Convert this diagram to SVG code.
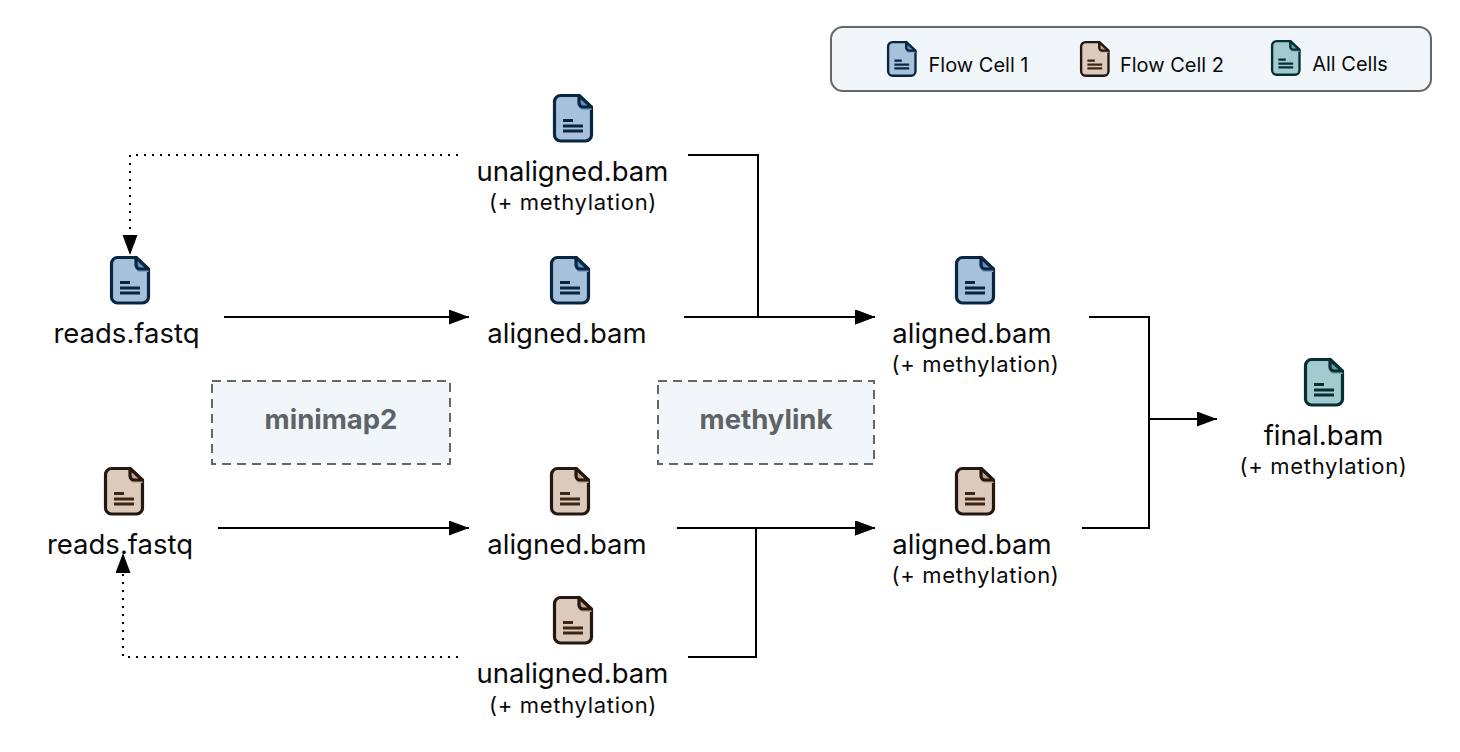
<svg xmlns="http://www.w3.org/2000/svg" width="1460" height="752" viewBox="0 0 1460 752">
<style>
text{font-family:"Inter","Noto Sans","Liberation Sans",sans-serif;text-anchor:middle;fill:#0a0a0a}
.n{font-size:27.5px}.s{font-size:22px;letter-spacing:.7px}.l{font-size:20px}
.p{font-size:27.500px;font-weight:700;fill:#5f6368}
.box{fill:#f1f6fa;stroke:#666;stroke-width:2}
.d{stroke-dasharray:9 6}
.c{fill:none;stroke:#000;stroke-width:2}
.a{marker-end:url(#ah)}
.dot{stroke-dasharray:2 6}
.b{stroke-width:3.200;stroke-linejoin:round}
.ln{fill:none;stroke-width:3}
</style>
<defs>
<marker id="ah" markerUnits="userSpaceOnUse" markerWidth="22" markerHeight="16" refX="20" refY="7.500" orient="auto"><path d="M0 0L20 7.500L0 15Z" fill="#000"/></marker>
<symbol id="f1" overflow="visible"><path class="b" d="M7.500 1.500H26L38.500 14V41a6 6 0 0 1-6 6H7.500a6 6 0 0 1-6-6V7.500a6 6 0 0 1 6-6Z" fill="#a6c1dc" stroke="#0a2540"/><path d="M26 2V12a4 4 0 0 0 4 4H38.500V14L26 2Z" fill="#7a9fc6"/><path class="b" d="M26 1.500V9a4 4 0 0 0 4 4H38.500Z" fill="#5f8fc0" stroke="#0a2540"/><path class="ln" d="M10 26.500H20M10 32H30M10 37H30" stroke="#0a2540"/></symbol>
<symbol id="f2" overflow="visible"><path class="b" d="M7.500 1.500H26L38.500 14V41a6 6 0 0 1-6 6H7.500a6 6 0 0 1-6-6V7.500a6 6 0 0 1 6-6Z" fill="#dccabd" stroke="#24170f"/><path d="M26 2V12a4 4 0 0 0 4 4H38.500V14L26 2Z" fill="#c7a98f"/><path class="b" d="M26 1.500V9a4 4 0 0 0 4 4H38.500Z" fill="#bfa28a" stroke="#24170f"/><path class="ln" d="M10 26.500H20M10 32H30M10 37H30" stroke="#3f2614"/></symbol>
<symbol id="f3" overflow="visible"><path class="b" d="M7.500 1.500H26L38.500 14V41a6 6 0 0 1-6 6H7.500a6 6 0 0 1-6-6V7.500a6 6 0 0 1 6-6Z" fill="#a2cbcf" stroke="#062e33"/><path d="M26 2V12a4 4 0 0 0 4 4H38.500V14L26 2Z" fill="#7db3b8"/><path class="b" d="M26 1.500V9a4 4 0 0 0 4 4H38.500Z" fill="#5fa0a6" stroke="#062e33"/><path class="ln" d="M10 26.500H20M10 32H30M10 37H30" stroke="#062e33"/></symbol>
</defs>
<rect width="1460" height="752" fill="#fff"/>
<g id="connectors">
<path class="c dot a" d="M458 155H130V255"/>
<path class="c dot a" d="M458 657H123V553"/>
<path class="c a" d="M224 317H469"/>
<path class="c a" d="M218 528H469"/>
<path class="c a" d="M684 317H875"/>
<path class="c a" d="M688 155H758V317H875"/>
<path class="c a" d="M677 528H875"/>
<path class="c a" d="M688 657H756V528H875"/>
<path class="c" d="M1089 317H1149V528H1082"/>
<path class="c a" d="M1149 419H1217"/>
</g>
<g id="legend">
<rect class="box" x="831" y="27" width="600" height="64" rx="12"/>
<use href="#f1" transform="translate(887,41) scale(.74)"/><text class="l" x="978.500" y="72">Flow Cell 1</text>
<use href="#f2" transform="translate(1080,41) scale(.74)"/><text class="l" x="1172" y="72">Flow Cell 2</text>
<use href="#f3" transform="translate(1271,40) scale(.74)"/><text class="l" x="1350" y="71">All Cells</text>
</g>
<g id="minimap2"><rect class="box d" x="212" y="381" width="238" height="83"/><text class="p" x="331" y="429">minimap2</text></g>
<g id="methylink"><rect class="box d" x="658" y="381" width="216" height="83"/><text class="p" x="766" y="429">methylink</text></g>
<g id="unaligned1"><use href="#f1" x="553" y="94"/><text class="n" x="572.500" y="181">unaligned.bam</text><text class="s" x="573" y="210">(+ methylation)</text></g>
<g id="reads1"><use href="#f1" x="110" y="256"/><text class="n" x="126.500" y="343">reads.fastq</text></g>
<g id="aligned1"><use href="#f1" x="550" y="256"/><text class="n" x="567" y="343">aligned.bam</text></g>
<g id="aligned1m"><use href="#f1" x="955" y="256"/><text class="n" x="972" y="343">aligned.bam</text><text class="s" x="975.500" y="372">(+ methylation)</text></g>
<g id="final"><use href="#f3" x="1304" y="358"/><text class="n" x="1323.500" y="445">final.bam</text><text class="s" x="1323.500" y="474">(+ methylation)</text></g>
<g id="reads2"><use href="#f2" x="104" y="467"/><text class="n" x="120" y="554">reads.fastq</text></g>
<g id="aligned2"><use href="#f2" x="550" y="467"/><text class="n" x="567" y="554">aligned.bam</text></g>
<g id="aligned2m"><use href="#f2" x="955" y="467"/><text class="n" x="972" y="554">aligned.bam</text><text class="s" x="975.500" y="583">(+ methylation)</text></g>
<g id="unaligned2"><use href="#f2" x="553" y="596"/><text class="n" x="572.500" y="683">unaligned.bam</text><text class="s" x="573" y="713">(+ methylation)</text></g>
</svg>
